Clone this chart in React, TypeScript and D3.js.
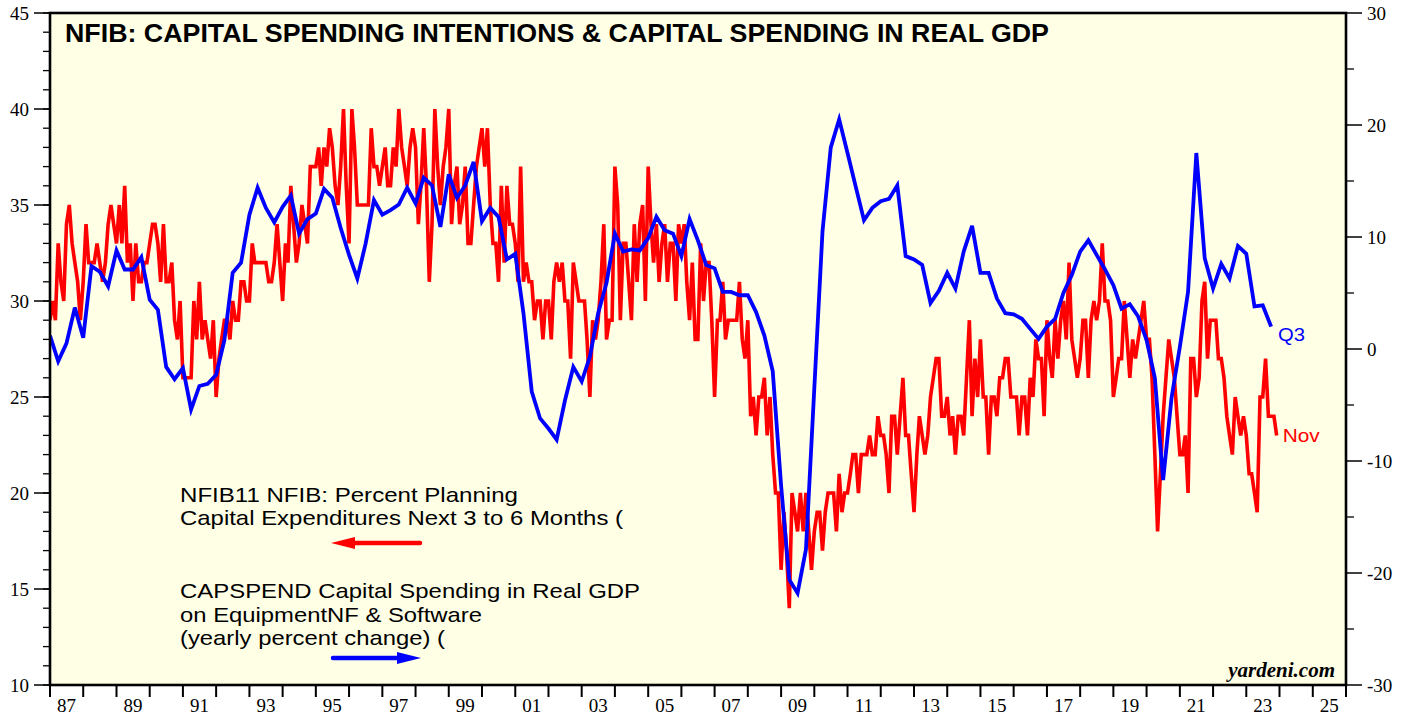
import React from 'react';
import * as d3 from 'd3';

const W = 1413;
const H = 717;
const PLOT = { left: 50, right: 1346, top: 13, bottom: 685 };

// NFIB capex plans, monthly, Dec 1986 .. Nov 2023 (percent, left axis)
const redValues: number[] = [
  29, 30, 29, 33, 31, 30, 34, 35, 33, 32, 31, 29,
  31, 34, 32, 32, 32, 33, 32, 31, 32, 34, 35, 34,
  33, 35, 33, 36, 32, 33, 30, 33, 31, 31, 32, 32,
  33, 34, 34, 33, 31, 34, 31, 31, 32, 29, 28, 30,
  26, 26, 26, 26, 30, 28, 31, 28, 29, 28, 27, 29,
  25, 27, 28, 29, 29, 28, 30, 29, 29, 31, 31, 30,
  30, 33, 32, 32, 32, 32, 32, 31, 31, 32, 34, 32,
  30, 33, 32, 36, 34, 32, 33, 35, 34, 33, 37, 37,
  37, 38, 36, 38, 37, 39, 38, 36, 35, 37, 40, 36,
  33, 40, 38, 35, 35, 35, 35, 35, 39, 37, 37, 36,
  37, 38, 36, 36, 38, 37, 40, 38, 37, 36, 38, 39,
  38, 34, 36, 39, 36, 31, 34, 40, 37, 35, 37, 38,
  40, 34, 36, 37, 34, 35, 37, 33, 33, 35, 37, 38,
  39, 37, 39, 35, 33, 33, 31, 36, 32, 36, 34, 34,
  33, 31, 37, 31, 32, 31, 31, 29, 30, 30, 28, 30,
  30, 28, 31, 32, 31, 32, 30, 30, 27, 32, 31, 30,
  30, 30, 28, 25, 29, 28, 29, 31, 34, 28, 29, 29,
  37, 35, 29, 33, 33, 31, 29, 34, 31, 34, 35, 30,
  37, 34, 32, 34, 31, 33, 34, 31, 33, 33, 30, 34,
  33, 34, 31, 29, 32, 28, 28, 33, 30, 32, 32, 29,
  25, 29, 29, 31, 28, 29, 29, 29, 29, 31, 28, 27,
  29, 24, 25, 23, 25, 25, 26, 23, 25, 22, 20, 20,
  16, 19, 17, 14, 20, 19, 18, 20, 18, 20, 18, 16,
  18, 19, 19, 17, 19, 20, 20, 20, 18, 21, 19, 20,
  20, 21, 22, 22, 20, 22, 22, 22, 23, 22, 22, 24,
  23, 23, 22, 20, 24, 24, 22, 24, 26, 23, 23, 21,
  19, 22, 24, 23, 22, 23, 25, 26, 27, 27, 24, 24,
  25, 23, 24, 22, 24, 24, 23, 26, 29, 24, 27, 25,
  28, 25, 25, 22, 25, 25, 24, 26, 26, 27, 27, 25,
  25, 25, 23, 25, 25, 23, 26, 25, 28, 27, 27, 24,
  29, 27, 26, 29, 27, 29, 30, 28, 32, 28, 27, 26,
  27, 29, 29, 26, 29, 30, 29, 30, 33, 30, 30, 29,
  25, 26, 27, 27, 30, 28, 26, 28, 27, 28, 29, 30,
  28, 28, 26, 22, 18, 21, 24, 26, 28, 27, 26, 24,
  22, 22, 23, 20, 27, 27, 25, 26, 30, 31, 27, 29,
  29, 29, 27, 27, 26, 24, 23, 22, 25, 24, 23, 24,
  23, 21, 21, 20, 19, 25, 25, 27, 24, 24, 24, 23,
];

// Real capital spending on equipment & software, y/y %, quarterly, 1986 Q4 .. 2023 Q3 (right axis)
const blueValues: number[] = [
  1.2,
  -1.1, 0.5, 3.7, 1.0,
  7.4, 6.9, 5.6, 8.8,
  7.1, 7.1, 8.2, 4.4,
  3.5, -1.6, -2.7, -1.7,
  -5.4, -3.3, -3.1, -2.3,
  0.8, 6.8, 7.7, 12.0,
  14.4, 12.6, 11.3, 12.7,
  13.7, 10.3, 11.6, 12.1,
  14.3, 13.5, 10.8, 8.4,
  6.3, 9.4, 13.3, 12.0,
  12.4, 12.9, 14.4, 13.0,
  15.3, 14.6, 10.9, 15.6,
  13.5, 14.6, 16.7, 11.4,
  12.6, 11.8, 8.0, 8.5,
  3.2, -3.8, -6.2, -7.1,
  -8.1, -4.6, -1.6, -2.9,
  -0.7, 3.2, 5.9, 10.3,
  8.7, 8.9, 8.8, 9.9,
  11.8, 10.6, 10.3, 8.3,
  11.6, 9.7, 7.5, 7.2,
  5.1, 5.1, 4.8, 4.8,
  3.3, 1.2, -2.0, -12.2,
  -20.6, -21.8, -17.9, -3.5,
  10.5, 18.0, 20.5, 17.5,
  14.5, 11.5, 12.6, 13.2,
  13.4, 14.6, 8.3, 8.0,
  7.5, 4.1, 5.2, 6.8,
  5.4, 8.7, 11.0, 6.8,
  6.8, 4.5, 3.2, 3.1,
  2.7, 1.8, 0.9, 2.0,
  2.7, 5.0, 6.6, 8.7,
  9.7, 8.4, 7.1, 5.7,
  3.6, 4.0, 2.9, 0.8,
  -2.6, -11.7, -4.4, 0.2,
  5.1, 17.5, 8.1, 5.4,
  7.6, 6.3, 9.2, 8.5,
  3.8, 3.9, 2.0,
];

const yearLabels = ['87', '89', '91', '93', '95', '97', '99', '01', '03', '05', '07', '09', '11', '13', '15', '17', '19', '21', '23', '25'];
const labelYears = [1987, 1989, 1991, 1993, 1995, 1997, 1999, 2001, 2003, 2005, 2007, 2009, 2011, 2013, 2015, 2017, 2019, 2021, 2023, 2025];
const leftMajor = [10, 15, 20, 25, 30, 35, 40, 45];
const rightMajor = [-30, -20, -10, 0, 10, 20, 30];
const rightMinor = [-25, -15, -5, 5, 15, 25];

const titleText = 'NFIB: CAPITAL SPENDING INTENTIONS & CAPITAL SPENDING IN REAL GDP';
const redLegend = ['NFIB11 NFIB: Percent Planning', 'Capital Expenditures Next 3 to 6 Months ('];
const blueLegend = ['CAPSPEND Capital Spending in Real GDP', 'on EquipmentNF & Software', '(yearly percent change) ('];
const redLegendWidths = [338, 443];
const blueLegendWidths = [460, 302, 265];

const SERIF = '"Liberation Serif", "Times New Roman", serif';
const SANS = '"Liberation Sans", Arial, sans-serif';

export default function App() {
  const x = d3.scaleTime().domain([new Date(1987, 0, 1), new Date(2026, 0, 1)]).range([PLOT.left, PLOT.right]);
  const yL = d3.scaleLinear().domain([10, 45]).range([PLOT.bottom, PLOT.top]);
  const yR = d3.scaleLinear().domain([-30, 30]).range([PLOT.bottom, PLOT.top]);

  const redPts = redValues.map((v, i) => ({ d: new Date(1987, i, 1), v }));
  const bluePts = blueValues.map((v, i) => ({ d: new Date(1987, 3 * i, 1), v }));

  const redPath = d3.line<{ d: Date; v: number }>().x(p => x(p.d)).y(p => yL(p.v))(redPts) || '';
  const bluePath = d3.line<{ d: Date; v: number }>().x(p => x(p.d)).y(p => yR(p.v))(bluePts) || '';

  const years = d3.range(1987, 2027);
  const leftMinor = d3.range(10, 46);

  const lastRed = redPts[redPts.length - 1];
  const lastBlue = bluePts[bluePts.length - 1];

  const arrowRedY = 543;
  const arrowBlueY = 658;

  return (
    <div style={{ position: 'absolute', left: 0, top: 0 }}>
      <svg width={W} height={H} style={{ display: 'block', background: '#ffffff' }}>
        <defs>
          <clipPath id="plotClip">
            <rect x={PLOT.left} y={PLOT.top} width={PLOT.right - PLOT.left} height={PLOT.bottom - PLOT.top} />
          </clipPath>
        </defs>
        <rect x={PLOT.left} y={PLOT.top} width={PLOT.right - PLOT.left} height={PLOT.bottom - PLOT.top} fill="#ffffe6" />

        {/* left axis */}
        {leftMinor.map(v => (
          <line key={'lm' + v} x1={PLOT.left - 7} x2={PLOT.left} y1={yL(v)} y2={yL(v)} stroke="#000" strokeWidth={1.3} />
        ))}
        {leftMajor.map(v => (
          <g key={'lM' + v}>
            <line x1={PLOT.left - 16} x2={PLOT.left} y1={yL(v)} y2={yL(v)} stroke="#000" strokeWidth={1.5} />
            <text x={29} y={yL(v) + 6.5} textAnchor="end" fontFamily={SERIF} fontSize={19}>{v}</text>
          </g>
        ))}

        {/* right axis */}
        {rightMinor.map(v => (
          <line key={'rm' + v} x1={PLOT.right} x2={PLOT.right + 8} y1={yR(v)} y2={yR(v)} stroke="#000" strokeWidth={1.3} />
        ))}
        {rightMajor.map(v => (
          <g key={'rM' + v}>
            <line x1={PLOT.right} x2={PLOT.right + 16} y1={yR(v)} y2={yR(v)} stroke="#000" strokeWidth={1.5} />
            <text x={1367} y={yR(v) + 6.5} textAnchor="start" fontFamily={SERIF} fontSize={19}>{v}</text>
          </g>
        ))}

        {/* bottom axis */}
        {years.map(yr => (
          <line key={'xt' + yr} x1={x(new Date(yr, 0, 1))} x2={x(new Date(yr, 0, 1))} y1={PLOT.bottom} y2={PLOT.bottom + 12} stroke="#000" strokeWidth={2} />
        ))}
        {labelYears.map((yr, i) => (
          <text key={'xl' + yr} x={x(new Date(yr, 6, 1))} y={712} textAnchor="middle" fontFamily={SERIF} fontSize={19}>{yearLabels[i]}</text>
        ))}

        {/* series */}
        <g clipPath="url(#plotClip)">
          <path d={redPath} fill="none" stroke="#ff0000" strokeWidth={3.6} />
          <path d={bluePath} fill="none" stroke="#0000ff" strokeWidth={3.8} />
        </g>

        {/* end labels */}
        <text x={x(lastBlue.d) + 7} y={yR(lastBlue.v) + 14} fontFamily={SANS} fontSize={19} fill="#0000ff" textLength={27} lengthAdjust="spacingAndGlyphs">Q3</text>
        <text x={x(lastRed.d) + 6} y={yL(lastRed.v) + 7} fontFamily={SANS} fontSize={19} fill="#ff0000" textLength={37} lengthAdjust="spacingAndGlyphs">Nov</text>

        {/* title */}
        <text x={65} y={41.5} fontFamily={SANS} fontWeight="bold" fontSize={25} textLength={984} lengthAdjust="spacingAndGlyphs">{titleText}</text>

        {/* legend */}
        {redLegend.map((t, i) => (
          <text key={'rl' + i} x={180} y={501.5 + i * 23.6} fontFamily={SANS} fontSize={21} textLength={redLegendWidths[i]} lengthAdjust="spacingAndGlyphs">{t}</text>
        ))}
        <line x1={343} x2={420} y1={arrowRedY} y2={arrowRedY} stroke="#ff0000" strokeWidth={4.5} strokeLinecap="round" />
        <path d={`M331,${arrowRedY} L355,${arrowRedY - 6} L355,${arrowRedY + 6} Z`} fill="#ff0000" />

        {blueLegend.map((t, i) => (
          <text key={'bl' + i} x={180} y={598.3 + i * 23.4} fontFamily={SANS} fontSize={21} textLength={blueLegendWidths[i]} lengthAdjust="spacingAndGlyphs">{t}</text>
        ))}
        <line x1={333} x2={408} y1={arrowBlueY} y2={arrowBlueY} stroke="#0000ff" strokeWidth={4.5} strokeLinecap="round" />
        <path d={`M421,${arrowBlueY} L397,${arrowBlueY - 6} L397,${arrowBlueY + 6} Z`} fill="#0000ff" />

        {/* watermark */}
        <text x={1335} y={676.5} textAnchor="end" fontFamily={SERIF} fontWeight="bold" fontStyle="italic" fontSize={21}>yardeni.com</text>

        {/* frame */}
        <rect x={PLOT.left} y={PLOT.top} width={PLOT.right - PLOT.left} height={PLOT.bottom - PLOT.top} fill="none" stroke="#000" strokeWidth={2.6} />
      </svg>
    </div>
  );
}
